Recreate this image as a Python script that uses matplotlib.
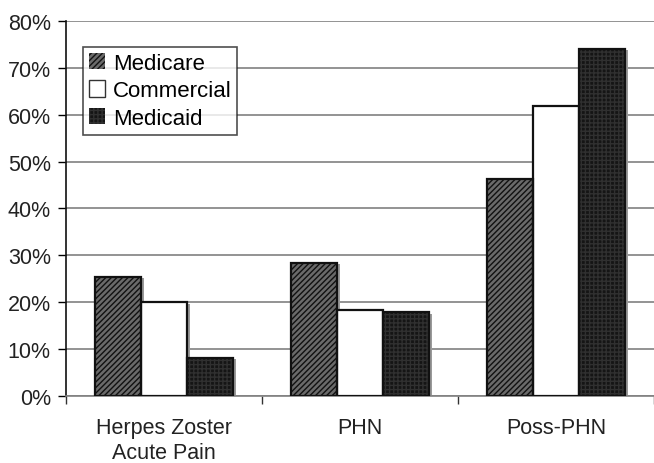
import numpy as np
import matplotlib.pyplot as plt
from matplotlib.ticker import FixedLocator, PercentFormatter
from matplotlib.patches import Patch

plt.rcParams['font.family'] = ['Liberation Sans', 'DejaVu Sans']

categories = ['Herpes Zoster\nAcute Pain', 'PHN', 'Poss-PHN']
series = ['Medicare', 'Commercial', 'Medicaid']
medicare = [25.5, 28.4, 46.3]
commercial = [20.0, 18.3, 61.8]
medicaid = [8.2, 17.9, 74.0]
values = [medicare, commercial, medicaid]

# fill, hatch, hatch colour per series
styles = [
    ('#6a6a6a', '//////', '#111111'),
    ('white', '', 'black'),
    ('#151515', '++++', '#303030'),
]

fig = plt.figure(figsize=(6.54, 4.64), dpi=100)
ax = fig.add_axes([0.101, 0.144, 0.899, 0.809])

x = np.arange(len(categories))
width = 0.235
offsets = [-width, 0, width]

for vals, off, (fc, hatch, hc) in zip(values, offsets, styles):
    # shadow
    ax.bar(x + off + 0.015, vals, width, bottom=-0.3, color='#9a9a9a', zorder=2, linewidth=0)
    ax.bar(x + off, vals, width, color=fc, hatch=hatch, edgecolor=hc, linewidth=0, zorder=3)
    ax.bar(x + off, vals, width, fill=False, edgecolor='#111111', linewidth=1.6, zorder=4)

ax.set_xlim(-0.5, 2.5)
ax.set_ylim(0, 80)
ax.yaxis.set_major_locator(FixedLocator(np.arange(0, 81, 10)))
ax.yaxis.set_major_formatter(PercentFormatter(decimals=0))
ax.grid(axis='y', color='#808080', linewidth=1.2, zorder=0)
ax.set_axisbelow(True)

ax.set_xticks([-0.5, 0.5, 1.5, 2.5])
ax.set_xticklabels([])
ax.set_xticks(x, minor=True)
ax.set_xticklabels(categories, minor=True, fontsize=15.5, color='#222222',
                   linespacing=1.25)
ax.tick_params(axis='x', which='minor', length=0, pad=15)
ax.tick_params(axis='x', which='major', length=6, width=1, color='#333333')
ax.tick_params(axis='y', length=6, width=1, labelsize=15.5, labelcolor='#222222', pad=5)

for s in ['top', 'right']:
    ax.spines[s].set_visible(False)
ax.spines['left'].set_color('#111111')
ax.spines['left'].set_linewidth(1.2)
ax.spines['bottom'].set_color('#808080')
ax.spines['bottom'].set_linewidth(1.2)

handles = [Patch(facecolor=fc, hatch=h, edgecolor=hc, linewidth=0) for fc, h, hc in styles]
handles[1] = Patch(facecolor='white', edgecolor='#333333', linewidth=1)
leg = ax.legend(handles, series, loc='upper left', bbox_to_anchor=(0.029, 0.93),
                fontsize=16, frameon=True, fancybox=False, edgecolor='#222222',
                handlelength=0.75, handleheight=0.75, handletextpad=0.35,
                borderpad=0.25, labelspacing=0.3, borderaxespad=0)
leg.get_frame().set_linewidth(1.2)
leg.set_zorder(6)

fig.savefig('out.png', dpi=100)
